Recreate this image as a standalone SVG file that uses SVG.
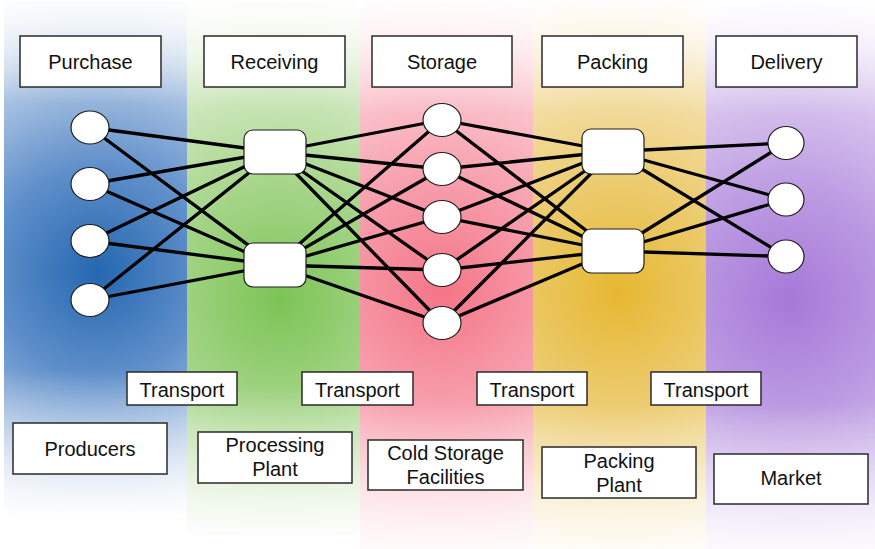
<svg xmlns="http://www.w3.org/2000/svg" width="875" height="549" viewBox="0 0 875 549">
  <defs>
    <radialGradient id="gBlue" gradientUnits="userSpaceOnUse" cx="98" cy="272" r="300">
      <stop offset="0" stop-color="#2467b0"/>
      <stop offset="0.35" stop-color="#5f8fca"/>
      <stop offset="0.75" stop-color="#c3d4ea"/>
      <stop offset="1" stop-color="#f7f9fc"/>
    </radialGradient>
    <radialGradient id="gGreen" gradientUnits="userSpaceOnUse" cx="280" cy="300" r="310">
      <stop offset="0" stop-color="#7cc455"/>
      <stop offset="0.35" stop-color="#a3d486"/>
      <stop offset="0.75" stop-color="#d6ebc8"/>
      <stop offset="1" stop-color="#f8fbf5"/>
    </radialGradient>
    <radialGradient id="gPink" gradientUnits="userSpaceOnUse" cx="442" cy="292" r="310">
      <stop offset="0" stop-color="#f47587"/>
      <stop offset="0.35" stop-color="#f79dab"/>
      <stop offset="0.75" stop-color="#fbd0d7"/>
      <stop offset="1" stop-color="#fef6f7"/>
    </radialGradient>
    <radialGradient id="gYellow" gradientUnits="userSpaceOnUse" cx="618" cy="292" r="310">
      <stop offset="0" stop-color="#e6b730"/>
      <stop offset="0.35" stop-color="#eccb6e"/>
      <stop offset="0.75" stop-color="#f5e3b5"/>
      <stop offset="1" stop-color="#fdf9ef"/>
    </radialGradient>
    <radialGradient id="gPurple" gradientUnits="userSpaceOnUse" cx="790" cy="300" r="310">
      <stop offset="0" stop-color="#a678d8"/>
      <stop offset="0.35" stop-color="#bc9be2"/>
      <stop offset="0.75" stop-color="#dfcff1"/>
      <stop offset="1" stop-color="#faf7fd"/>
    </radialGradient>
    <!-- white wash that softens each band towards its top and bottom -->
    <linearGradient id="wash" x1="0" y1="0" x2="0" y2="1">
      <stop offset="0" stop-color="#ffffff" stop-opacity="0.85"/>
      <stop offset="0.2" stop-color="#ffffff" stop-opacity="0"/>
      <stop offset="0.72" stop-color="#ffffff" stop-opacity="0"/>
      <stop offset="1" stop-color="#ffffff" stop-opacity="0.92"/>
    </linearGradient>
  </defs>
  <style>
    .box { fill: #ffffff; stroke: #2a2a2a; stroke-width: 1.5; }
    .node { fill: #ffffff; stroke: #1e1e1e; stroke-width: 1.2; }
    .lbl { font-family: "Liberation Sans", Arial, sans-serif; font-size: 20px; fill: #111111; text-anchor: middle; }
    .edge { stroke: #000000; stroke-width: 3.3; stroke-linecap: round; }
    .wash { fill: url(#wash); }
  </style>

  <rect width="875" height="549" fill="#ffffff"/>

  <!-- stage bands -->
  <g id="bands">
    <rect x="4" y="1" width="186" height="512" rx="10" fill="url(#gBlue)"/>
    <rect class="wash" x="4" y="1" width="186" height="512" rx="10"/>
    <rect x="187" y="1" width="173" height="534" rx="10" fill="url(#gGreen)"/>
    <rect class="wash" x="187" y="1" width="173" height="534" rx="10"/>
    <rect x="360" y="1" width="173" height="560" rx="10" fill="url(#gPink)"/>
    <rect class="wash" x="360" y="1" width="173" height="560" rx="10"/>
    <rect x="533" y="1" width="173" height="560" rx="10" fill="url(#gYellow)"/>
    <rect class="wash" x="533" y="1" width="173" height="560" rx="10"/>
    <rect x="706" y="1" width="180" height="560" rx="10" fill="url(#gPurple)"/>
    <rect class="wash" x="706" y="1" width="180" height="560" rx="10"/>
  </g>

  <!-- connectors -->
  <g id="connectors" class="edge">
    <!-- purchase to receiving -->
    <line class="edge" x1="90" y1="127.5" x2="275" y2="152"/>
    <line class="edge" x1="90" y1="127.5" x2="275" y2="265"/>
    <line class="edge" x1="90" y1="184" x2="275" y2="152"/>
    <line class="edge" x1="90" y1="184" x2="275" y2="265"/>
    <line class="edge" x1="90" y1="241" x2="275" y2="152"/>
    <line class="edge" x1="90" y1="241" x2="275" y2="265"/>
    <line class="edge" x1="90" y1="300" x2="275" y2="152"/>
    <line class="edge" x1="90" y1="300" x2="275" y2="265"/>
    <!-- receiving to storage -->
    <line class="edge" x1="275" y1="152" x2="442" y2="120"/>
    <line class="edge" x1="275" y1="152" x2="442" y2="169"/>
    <line class="edge" x1="275" y1="152" x2="442" y2="217"/>
    <line class="edge" x1="275" y1="152" x2="442" y2="270"/>
    <line class="edge" x1="275" y1="152" x2="442" y2="323"/>
    <line class="edge" x1="275" y1="265" x2="442" y2="120"/>
    <line class="edge" x1="275" y1="265" x2="442" y2="169"/>
    <line class="edge" x1="275" y1="265" x2="442" y2="217"/>
    <line class="edge" x1="275" y1="265" x2="442" y2="270"/>
    <line class="edge" x1="275" y1="265" x2="442" y2="323"/>
    <!-- storage to packing -->
    <line class="edge" x1="442" y1="120" x2="613" y2="151.5"/>
    <line class="edge" x1="442" y1="120" x2="613" y2="251"/>
    <line class="edge" x1="442" y1="169" x2="613" y2="151.5"/>
    <line class="edge" x1="442" y1="169" x2="613" y2="251"/>
    <line class="edge" x1="442" y1="217" x2="613" y2="151.5"/>
    <line class="edge" x1="442" y1="217" x2="613" y2="251"/>
    <line class="edge" x1="442" y1="270" x2="613" y2="151.5"/>
    <line class="edge" x1="442" y1="270" x2="613" y2="251"/>
    <line class="edge" x1="442" y1="323" x2="613" y2="151.5"/>
    <line class="edge" x1="442" y1="323" x2="613" y2="251"/>
    <!-- packing to delivery -->
    <line class="edge" x1="613" y1="151.5" x2="786" y2="143"/>
    <line class="edge" x1="613" y1="151.5" x2="786" y2="199.5"/>
    <line class="edge" x1="613" y1="151.5" x2="786" y2="256.5"/>
    <line class="edge" x1="613" y1="251" x2="786" y2="143"/>
    <line class="edge" x1="613" y1="251" x2="786" y2="199.5"/>
    <line class="edge" x1="613" y1="251" x2="786" y2="256.5"/>
  </g>

  <!-- purchase points -->
  <g id="purchase-1"><ellipse class="node" cx="90" cy="127.5" rx="19" ry="16.5"/></g>
  <g id="purchase-2"><ellipse class="node" cx="90" cy="184" rx="19" ry="16.5"/></g>
  <g id="purchase-3"><ellipse class="node" cx="90" cy="241" rx="19" ry="16.5"/></g>
  <g id="purchase-4"><ellipse class="node" cx="90" cy="300" rx="19" ry="16.5"/></g>

  <!-- receiving hubs -->
  <g id="receiving-1"><rect class="node" x="244" y="130" width="62" height="44" rx="9"/></g>
  <g id="receiving-2"><rect class="node" x="244" y="243" width="62" height="44" rx="9"/></g>

  <!-- storage points -->
  <g id="storage-1"><ellipse class="node" cx="442" cy="120" rx="19" ry="16.5"/></g>
  <g id="storage-2"><ellipse class="node" cx="442" cy="169" rx="19" ry="16.5"/></g>
  <g id="storage-3"><ellipse class="node" cx="442" cy="217" rx="19" ry="16.5"/></g>
  <g id="storage-4"><ellipse class="node" cx="442" cy="270" rx="19" ry="16.5"/></g>
  <g id="storage-5"><ellipse class="node" cx="442" cy="323" rx="19" ry="16.5"/></g>

  <!-- packing hubs -->
  <g id="packing-1"><rect class="node" x="582" y="129" width="62" height="45" rx="9"/></g>
  <g id="packing-2"><rect class="node" x="582" y="229" width="62" height="44" rx="9"/></g>

  <!-- delivery points -->
  <g id="delivery-1"><ellipse class="node" cx="786" cy="143" rx="18" ry="16.5"/></g>
  <g id="delivery-2"><ellipse class="node" cx="786" cy="199.5" rx="18" ry="16.5"/></g>
  <g id="delivery-3"><ellipse class="node" cx="786" cy="256.5" rx="18" ry="16.5"/></g>

  <!-- stage headers -->
  <g id="hdr-purchase"><rect class="box" x="20" y="36" width="141" height="51"/><text class="lbl" x="90.5" y="69">Purchase</text></g>
  <g id="hdr-receiving"><rect class="box" x="204" y="36" width="141" height="51"/><text class="lbl" x="274.5" y="69">Receiving</text></g>
  <g id="hdr-storage"><rect class="box" x="372" y="36" width="140" height="51"/><text class="lbl" x="442" y="69">Storage</text></g>
  <g id="hdr-packing"><rect class="box" x="542" y="36" width="141" height="51"/><text class="lbl" x="612.5" y="69">Packing</text></g>
  <g id="hdr-delivery"><rect class="box" x="716" y="36" width="141" height="51"/><text class="lbl" x="786.5" y="69">Delivery</text></g>

  <!-- transport steps -->
  <g id="transport-1"><rect class="box" x="127" y="372" width="110" height="33"/><text class="lbl" x="182" y="396.5">Transport</text></g>
  <g id="transport-2"><rect class="box" x="302" y="372" width="111" height="33"/><text class="lbl" x="357.5" y="396.5">Transport</text></g>
  <g id="transport-3"><rect class="box" x="477" y="372" width="110" height="33"/><text class="lbl" x="532" y="396.5">Transport</text></g>
  <g id="transport-4"><rect class="box" x="651" y="372" width="110" height="33"/><text class="lbl" x="706" y="396.5">Transport</text></g>

  <!-- facilities -->
  <g id="fac-producers"><rect class="box" x="13" y="423" width="154" height="51"/><text class="lbl" x="90" y="456">Producers</text></g>
  <g id="fac-processing"><rect class="box" x="198" y="432" width="154" height="51"/><text class="lbl" x="275" y="452">Processing</text><text class="lbl" x="275" y="476">Plant</text></g>
  <g id="fac-cold"><rect class="box" x="368" y="440" width="155" height="50"/><text class="lbl" x="445.5" y="460">Cold Storage</text><text class="lbl" x="445.5" y="484">Facilities</text></g>
  <g id="fac-packing"><rect class="box" x="542" y="447" width="154" height="51"/><text class="lbl" x="619" y="468">Packing</text><text class="lbl" x="619" y="492">Plant</text></g>
  <g id="fac-market"><rect class="box" x="714" y="454" width="154" height="50"/><text class="lbl" x="791" y="485">Market</text></g>
</svg>
